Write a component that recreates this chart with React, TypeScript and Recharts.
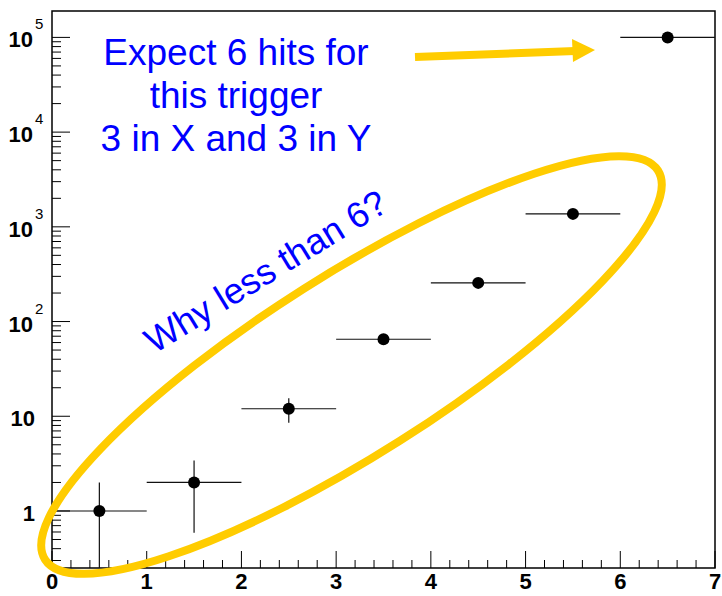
import { ScatterChart, Scatter, XAxis, YAxis, ErrorBar, ReferenceArea } from 'recharts'

// hit multiplicity bins
const binCenters = [0.5, 1.5, 2.5, 3.5, 4.5, 5.5, 6.5]
const counts = [1, 2, 12, 65, 256, 1370, 100000]
const yErrLow = [0.75, 1.41, 3.46, 8.06, 16, 37, 316]
const yErrHigh = [1, 1.41, 3.46, 8.06, 16, 37, 316]
const xHalfWidth = [0.5, 0.5, 0.5, 0.5, 0.5, 0.5, 0.5]

const yMajorTicks = [1, 10, 100, 1000, 10000, 100000]
const yMinorSteps = [2, 3, 4, 5, 6, 7, 8, 9]
const xMajorTicks = [0, 1, 2, 3, 4, 5, 6, 7]
const xMinorSteps = [0.2, 0.4, 0.6, 0.8]

const Y_MIN = 0.25
const Y_MAX = 190000

const data = binCenters.map((x, i) => ({
  x,
  y: counts[i],
  yErr: [yErrLow[i], yErrHigh[i]],
  xErr: xHalfWidth[i],
}))

// log ticks: majors plus 2..9 of each decade (and the partial decade below 1)
const yTicks: number[] = []
;[0.1, ...yMajorTicks].forEach((m) => {
  if (m >= Y_MIN && m <= Y_MAX) yTicks.push(m)
  yMinorSteps.forEach((s) => {
    const v = m * s
    if (v >= Y_MIN && v <= Y_MAX && v < 1e5) yTicks.push(v)
  })
})
yTicks.sort((a, b) => a - b)

const xTicks: number[] = []
xMajorTicks.forEach((m, i) => {
  xTicks.push(m)
  if (i < xMajorTicks.length - 1) xMinorSteps.forEach((s) => xTicks.push(m + s))
})

const font = 'Liberation Sans, Arial, Helvetica, sans-serif'
const blue = '#0000ff'
const yellow = '#ffcc00'

function YTick(props: any) {
  const { x, y, payload } = props
  const v = payload.value
  const isMajor = yMajorTicks.some((m) => Math.abs(m - v) / m < 1e-6)
  if (!isMajor) {
    return <line x1={x} y1={y} x2={x + 9} y2={y} stroke="#000" strokeWidth={1} />
  }
  const exp = Math.round(Math.log10(v))
  return (
    <g>
      <line x1={x} y1={y} x2={x + 18} y2={y} stroke="#000" strokeWidth={1} />
      {exp <= 1 ? (
        <text x={x - 17} y={y + 10} textAnchor="end" fontFamily={font} fontWeight="bold" fontSize={22} fill="#000">
          {exp === 0 ? '1' : '10'}
        </text>
      ) : (
        <>
          <text x={x - 19} y={y + 10} textAnchor="end" fontFamily={font} fontWeight="bold" fontSize={22} fill="#000">
            10
          </text>
          <text x={x - 17} y={y - 8} textAnchor="start" fontFamily={font} fontSize={15} fill="#000">
            {exp}
          </text>
        </>
      )}
    </g>
  )
}

function XTick(props: any) {
  const { x, y, payload } = props
  const v = payload.value
  const isMajor = Math.abs(v - Math.round(v)) < 1e-6
  if (!isMajor) {
    return <line x1={x} y1={y} x2={x} y2={y - 8} stroke="#000" strokeWidth={1} />
  }
  return (
    <g>
      <line x1={x} y1={y} x2={x} y2={y - 17} stroke="#000" strokeWidth={1} />
      <text x={x} y={y + 21} textAnchor="middle" fontFamily={font} fontWeight="bold" fontSize={22} fill="#000">
        {Math.round(v)}
      </text>
    </g>
  )
}

const Dot = (props: any) => <circle cx={props.cx} cy={props.cy} r={6} fill="#000" />

export default function App() {
  return (
    <div style={{ position: 'absolute', left: 0, top: 0, width: 722, height: 596, background: '#fff' }}>
      <ScatterChart width={722} height={596} margin={{ top: 11, right: 7, left: 0, bottom: 0 }}>
        <XAxis
          type="number"
          dataKey="x"
          domain={[0, 7]}
          ticks={xTicks}
          interval={0}
          height={28}
          tickSize={0}
          tickMargin={0}
          tickLine={false}
          axisLine={false}
          tick={<XTick />}
          allowDataOverflow
        />
        <YAxis
          type="number"
          dataKey="y"
          scale="log"
          domain={[Y_MIN, Y_MAX]}
          ticks={yTicks}
          interval={0}
          width={52}
          tickSize={0}
          tickMargin={0}
          tickLine={false}
          axisLine={false}
          tick={<YTick />}
          allowDataOverflow
        />
        <ReferenceArea x1={0} x2={7} y1={Y_MIN} y2={Y_MAX} fill="none" stroke="#000" strokeWidth={1.5} />
        <Scatter data={data} shape={Dot} isAnimationActive={false}>
          <ErrorBar dataKey="xErr" direction="x" width={0} stroke="#111" strokeWidth={1.2} isAnimationActive={false} />
          <ErrorBar dataKey="yErr" direction="y" width={0} stroke="#111" strokeWidth={1.2} isAnimationActive={false} />
        </Scatter>
      </ScatterChart>
      <svg width={722} height={596} style={{ position: 'absolute', left: 0, top: 0, pointerEvents: 'none' }}>
        <g fontFamily={font} fontSize={37} fill={blue} textAnchor="middle">
          <text x={236} y={65}>Expect 6 hits for</text>
          <text x={236} y={108}>this trigger</text>
          <text x={236} y={151}>3 in X and 3 in Y</text>
        </g>
        <text
          x={272}
          y={282}
          textAnchor="middle"
          fontFamily={font}
          fontSize={36}
          fill={blue}
          transform="rotate(-31.5 272 282)"
        >
          Why less than 6?
        </text>
        <ellipse
          cx={351.5}
          cy={365}
          rx={363}
          ry={90}
          fill="none"
          stroke={yellow}
          strokeWidth={8}
          transform="rotate(-32.4 351.5 365)"
        />
        <line x1={415} y1={57} x2={575} y2={51} stroke={yellow} strokeWidth={8} />
        <polygon points="572,39 595,50 573,62" fill={yellow} />
      </svg>
    </div>
  )
}
